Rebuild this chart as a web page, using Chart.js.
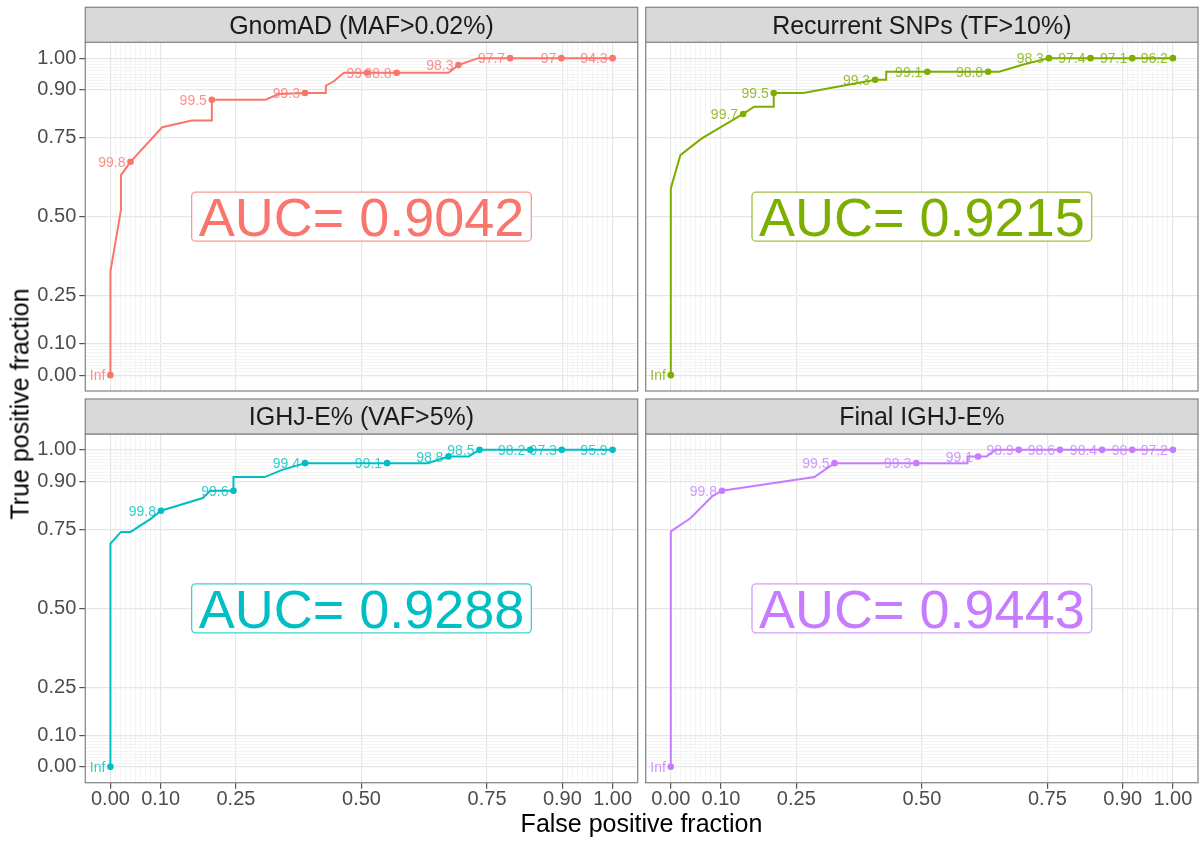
<!DOCTYPE html>
<html>
<head>
<meta charset="utf-8">
<script src="https://cdn.jsdelivr.net/npm/chart.js@4.4.1/dist/chart.umd.min.js"></script>
<style>
  html, body { margin: 0; padding: 0; background: #ffffff; }
  #wrap { position: relative; width: 1203px; height: 843px; overflow: hidden;
          font-family: "Liberation Sans", Arial, sans-serif; }
  #wrap canvas { position: absolute; left: 0; top: 0; }
  .axis-title { position: absolute; color: #000000; font-size: 25px; line-height: 1; white-space: nowrap; }
  #xTitle { left: 641.5px; top: 823px; transform: translate(-50%, -50%); }
  #yTitle { left: 20px; top: 404px; transform: translate(-50%, -50%) rotate(-90deg); }
</style>
</head>
<body>
<div id="wrap">
  <canvas id="p1" width="1203" height="843"></canvas>
  <canvas id="p2" width="1203" height="843"></canvas>
  <canvas id="p3" width="1203" height="843"></canvas>
  <canvas id="p4" width="1203" height="843"></canvas>
  <div class="axis-title" id="xTitle">False positive fraction</div>
  <div class="axis-title" id="yTitle">True positive fraction</div>
</div>
<script>
// ---- facet titles, AUC values and colours ----
const panelTitles = ["GnomAD (MAF>0.02%)", "Recurrent SNPs (TF>10%)", "IGHJ-E% (VAF>5%)", "Final IGHJ-E%"];
const aucValues = [0.9042, 0.9215, 0.9288, 0.9443];
const panelColors = ["#F8766D", "#7CAE00", "#00BFC4", "#C77CFF"];

// ---- axis ticks (same on both axes) ----
const tickValues = [0, 0.10, 0.25, 0.50, 0.75, 0.90, 1.00];
const tickLabels = ["0.00", "0.10", "0.25", "0.50", "0.75", "0.90", "1.00"];

// ---- GnomAD (MAF>0.02%) ----
const gnomadFpf = [0, 0, 0.021, 0.021, 0.040, 0.103, 0.162, 0.202, 0.202, 0.309, 0.335, 0.3875, 0.429, 0.429, 0.445, 0.465, 0.511, 0.570, 0.673, 0.693, 0.732, 0.796, 0.898, 1.0];
const gnomadTpf = [0, 0.327, 0.521, 0.631, 0.673, 0.782, 0.803, 0.803, 0.869, 0.869, 0.887, 0.890, 0.890, 0.913, 0.927, 0.954, 0.954, 0.954, 0.954, 0.978, 1.0, 1.0, 1.0, 1.0];
const gnomadCutFpf = [0, 0.040, 0.202, 0.3875, 0.511, 0.570, 0.693, 0.796, 0.898, 1.0];
const gnomadCutTpf = [0, 0.673, 0.869, 0.890, 0.954, 0.954, 0.978, 1.0, 1.0, 1.0];
const gnomadCutLabels = ["Inf", "99.8", "99.5", "99.3", "99", "98.8", "98.3", "97.7", "97", "94.3"];

// ---- Recurrent SNPs (TF>10%) ----
const snpFpf = [0, 0, 0.019, 0.061, 0.144, 0.166, 0.205, 0.205, 0.264, 0.407, 0.429, 0.429, 0.511, 0.632, 0.654, 0.704, 0.753, 0.836, 0.919, 1.0];
const snpTpf = [0, 0.589, 0.694, 0.746, 0.824, 0.847, 0.847, 0.890, 0.890, 0.932, 0.932, 0.957, 0.957, 0.957, 0.957, 0.981, 1.0, 1.0, 1.0, 1.0];
const snpCutFpf = [0, 0.144, 0.205, 0.407, 0.511, 0.632, 0.753, 0.836, 0.919, 1.0];
const snpCutTpf = [0, 0.824, 0.890, 0.932, 0.957, 0.957, 1.0, 1.0, 1.0, 1.0];
const snpCutLabels = ["Inf", "99.7", "99.5", "99.3", "99.1", "98.8", "98.3", "97.4", "97.1", "96.2"];

// ---- IGHJ-E% (VAF>5%) ----
const ighjFpf = [0, 0, 0.021, 0.040, 0.081, 0.1007, 0.184, 0.199, 0.245, 0.245, 0.307, 0.342, 0.3875, 0.551, 0.632, 0.673, 0.713, 0.735, 0.836, 0.899, 1.0];
const ighjTpf = [0, 0.704, 0.741, 0.741, 0.783, 0.808, 0.848, 0.871, 0.871, 0.914, 0.914, 0.937, 0.958, 0.958, 0.958, 0.979, 0.979, 1.0, 1.0, 1.0, 1.0];
const ighjCutFpf = [0, 0.1007, 0.245, 0.3875, 0.551, 0.673, 0.735, 0.836, 0.899, 1.0];
const ighjCutTpf = [0, 0.808, 0.871, 0.958, 0.958, 0.979, 1.0, 1.0, 1.0, 1.0];
const ighjCutLabels = ["Inf", "99.8", "99.6", "99.4", "99.1", "98.8", "98.5", "98.2", "97.3", "95.9"];

// ---- Final IGHJ-E% ----
const finalFpf = [0, 0, 0.039, 0.082, 0.102, 0.286, 0.326, 0.489, 0.591, 0.591, 0.612, 0.629, 0.646, 0.693, 0.775, 0.859, 0.919, 1.0];
const finalTpf = [0, 0.743, 0.784, 0.853, 0.871, 0.914, 0.958, 0.958, 0.958, 0.979, 0.979, 0.979, 1.0, 1.0, 1.0, 1.0, 1.0, 1.0];
const finalCutFpf = [0, 0.102, 0.326, 0.489, 0.612, 0.693, 0.775, 0.859, 0.919, 1.0];
const finalCutTpf = [0, 0.871, 0.958, 0.958, 0.979, 1.0, 1.0, 1.0, 1.0, 1.0];
const finalCutLabels = ["Inf", "99.8", "99.5", "99.3", "99.1", "98.9", "98.6", "98.4", "98", "97.2"];

// ---- page layout (px) ----
const W = 1203, H = 843;
const COLS = [[85.3, 637.7], [645.7, 1198]];
const ROWS = [[42.3, 391], [434, 782.7]];
const STRIP_H = 35;
const X_AXIS_H = 40;
const FONT = '"Liberation Sans", Arial, Helvetica, sans-serif';

// minor grid: fine steps near both ends of the unit range
const minorValues = [];
for (let k = 1; k < 10; k++) { minorValues.push(k / 100); minorValues.push((90 + k) / 100); }
const gridValues = tickValues.concat(minorValues).sort((a, b) => a - b);
const isMajor = v => tickValues.some(t => Math.abs(t - v) < 1e-9);
const labelFor = v => { const i = tickValues.findIndex(t => Math.abs(t - v) < 1e-9); return i >= 0 ? tickLabels[i] : ''; };

function rgba(hex, a) {
  const n = parseInt(hex.slice(1), 16);
  return `rgba(${(n >> 16) & 255},${(n >> 8) & 255},${n & 255},${a})`;
}

const panelDecor = {
  id: 'panelDecor',
  beforeDatasetsDraw(chart, args, o) {
    const { ctx, chartArea: a, scales: { x, y } } = chart;
    ctx.save();
    ctx.beginPath(); ctx.rect(a.left, a.top, a.right - a.left, a.bottom - a.top); ctx.clip();
    ctx.strokeStyle = '#ffffff'; ctx.lineWidth = 1;
    ctx.beginPath();
    ctx.moveTo(x.getPixelForValue(0), y.getPixelForValue(0));
    ctx.lineTo(x.getPixelForValue(1), y.getPixelForValue(1));
    ctx.stroke();
    ctx.restore();
  },
  afterDatasetsDraw(chart, args, o) {
    const { ctx, chartArea: a, scales: { x, y } } = chart;
    ctx.save();
    // cutoff labels, right-aligned to the left of each marker
    ctx.font = `14px ${FONT}`;
    ctx.fillStyle = rgba(o.color, 0.8);
    ctx.textAlign = 'right'; ctx.textBaseline = 'alphabetic';
    o.cutFpf.forEach((fx, i) => {
      const px = x.getPixelForValue(fx), py = y.getPixelForValue(o.cutTpf[i]);
      ctx.fillText(o.cutLabels[i], px - 5, py + 5);
    });
    // AUC label box
    const txt = 'AUC= ' + o.auc.toFixed(4);
    ctx.font = `54px ${FONT}`;
    const tw = ctx.measureText(txt).width;
    const cx = x.getPixelForValue(0.5), cy = y.getPixelForValue(0.5);
    const bw = tw + 14, bh = 49;
    ctx.beginPath();
    ctx.roundRect(cx - bw / 2, cy - bh / 2, bw, bh, 4);
    ctx.fillStyle = '#ffffff'; ctx.fill();
    ctx.strokeStyle = rgba(o.color, 0.75); ctx.lineWidth = 1.3; ctx.stroke();
    ctx.fillStyle = o.color; ctx.textAlign = 'center';
    ctx.fillText(txt, cx, cy + 0.358 * 54);
    ctx.restore();
  },
  afterDraw(chart, args, o) {
    const { ctx, chartArea: a } = chart;
    ctx.save();
    // panel border
    ctx.strokeStyle = '#8a8a8a'; ctx.lineWidth = 1.3;
    ctx.strokeRect(a.left, a.top, a.right - a.left, a.bottom - a.top);
    // facet strip
    ctx.fillStyle = '#d9d9d9';
    ctx.fillRect(a.left, a.top - STRIP_H, a.right - a.left, STRIP_H);
    ctx.strokeRect(a.left, a.top - STRIP_H, a.right - a.left, STRIP_H);
    ctx.fillStyle = '#1a1a1a';
    ctx.font = `25px ${FONT}`;
    ctx.textAlign = 'center'; ctx.textBaseline = 'alphabetic';
    ctx.fillText(o.title, (a.left + a.right) / 2, a.top - STRIP_H / 2 + 0.358 * 25);
    ctx.restore();
  }
};

function axisOptions(show, isX, size) {
  return {
    type: 'linear', min: -0.05, max: 1.05,
    afterBuildTicks: s => { s.ticks = gridValues.map(v => ({ value: v })); },
    afterFit: s => { if (isX) s.height = show ? size : 0; else s.width = show ? size : 0; },
    border: { display: false },
    grid: {
      color: c => isMajor(c.tick.value) ? '#e6e6e6' : '#f1f1f1',
      lineWidth: c => isMajor(c.tick.value) ? 1.2 : 0.8,
      drawTicks: show, tickLength: 6,
      tickColor: c => isMajor(c.tick.value) ? '#555555' : 'rgba(0,0,0,0)',
      tickWidth: 1.2
    },
    ticks: {
      display: show, autoSkip: false, maxRotation: 0, minRotation: 0,
      padding: isX ? 1 : 3,
      color: '#4d4d4d',
      font: { family: FONT, size: 20, lineHeight: 1 },
      callback: v => labelFor(v)
    }
  };
}

function makePanel(canvasId, idx, fpf, tpf, cutFpf, cutTpf, cutLabels) {
  const col = idx % 2, row = Math.floor(idx / 2);
  const showY = col === 0, showX = row === 1;
  const [left, right] = COLS[col], [top, bottom] = ROWS[row];
  const color = panelColors[idx];
  new Chart(document.getElementById(canvasId), {
    type: 'line',
    data: {
      datasets: [
        { data: fpf.map((v, i) => ({ x: v, y: tpf[i] })), borderColor: color, borderWidth: 2,
          pointRadius: 0, tension: 0, fill: false },
        { data: cutFpf.map((v, i) => ({ x: v, y: cutTpf[i] })), showLine: false,
          pointRadius: 3.3, pointBackgroundColor: color, pointBorderWidth: 0, borderColor: color }
      ]
    },
    options: {
      responsive: false, animation: false, devicePixelRatio: 1, events: [],
      layout: {
        autoPadding: false,
        padding: { left: showY ? 0 : left, right: W - right, top: top,
                   bottom: showX ? H - bottom - X_AXIS_H : H - bottom }
      },
      plugins: {
        legend: { display: false }, tooltip: { enabled: false },
        panelDecor: { title: panelTitles[idx], color: color, auc: aucValues[idx],
                      cutFpf: cutFpf, cutTpf: cutTpf, cutLabels: cutLabels }
      },
      scales: {
        x: axisOptions(showX, true, X_AXIS_H),
        y: axisOptions(showY, false, left)
      }
    },
    plugins: [panelDecor]
  });
}

makePanel('p1', 0, gnomadFpf, gnomadTpf, gnomadCutFpf, gnomadCutTpf, gnomadCutLabels);
makePanel('p2', 1, snpFpf, snpTpf, snpCutFpf, snpCutTpf, snpCutLabels);
makePanel('p3', 2, ighjFpf, ighjTpf, ighjCutFpf, ighjCutTpf, ighjCutLabels);
makePanel('p4', 3, finalFpf, finalTpf, finalCutFpf, finalCutTpf, finalCutLabels);
</script>
</body>
</html>
